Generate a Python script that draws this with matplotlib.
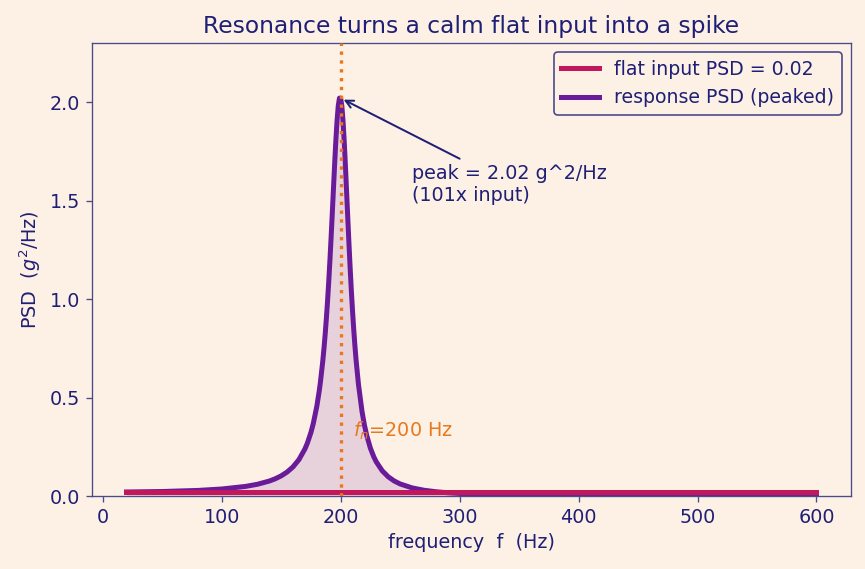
import matplotlib
matplotlib.use("Agg")
import matplotlib.pyplot as plt

# --- data ---
freq = [20, 50, 80, 100, 120, 130, 140, 145, 150, 155, 160, 165, 170, 172,
        175, 177, 180, 182, 183, 185, 186, 187, 188, 189, 190, 191, 192, 193,
        194, 195, 196, 197, 198, 199, 200, 201, 202, 203, 204, 205, 206, 207,
        208, 209, 210, 211, 212, 213, 215, 218, 220, 222, 225, 228, 230, 235,
        240, 245, 250, 260, 270, 280, 290, 300, 350, 400, 450, 500, 600]
response_psd = [0.0204, 0.0228, 0.0283, 0.0355, 0.0486, 0.0595, 0.0758, 0.0873,
                0.1021, 0.1216, 0.148, 0.1851, 0.2392, 0.2679, 0.322, 0.3677,
                0.456, 0.533, 0.578, 0.686, 0.750, 0.821, 0.901, 0.990, 1.089,
                1.197, 1.314, 1.438, 1.565, 1.690, 1.807, 1.907, 1.981, 2.020,
                2.02, 1.980, 1.905, 1.802, 1.679, 1.546, 1.412, 1.281, 1.157,
                1.043, 0.939, 0.846, 0.763, 0.689, 0.566, 0.428, 0.360, 0.306,
                0.243, 0.197, 0.173, 0.1278, 0.0975, 0.0764, 0.0612, 0.0413,
                0.0293, 0.0217, 0.0165, 0.0129, 0.0048, 0.0023, 0.0013, 0.0008,
                0.0003]
input_level = 0.02
f_n = 200
peak = 2.02

# --- colours ---
bg = "#fdf1e6"
ink = "#1f1f75"
spine = "#4b4b8c"
red = "#c2185b"
purple = "#6a1b9a"
orange = "#e8781e"

fig, ax = plt.subplots(figsize=(865 / 120, 569 / 120), dpi=120)
fig.patch.set_facecolor(bg)
ax.set_facecolor(bg)

ax.plot(freq, [input_level] * len(freq), color=red, lw=3,
        label="flat input PSD = 0.02", zorder=3)
ax.plot(freq, response_psd, color=purple, lw=3,
        label="response PSD (peaked)", zorder=2)
ax.fill_between(freq, 0, response_psd, color=purple, alpha=0.15, lw=0, zorder=1)
ax.axvline(f_n, color=orange, ls=":", lw=2, zorder=4)
ax.text(f_n + 10, 0.3, r"$f_n$=200 Hz", color=orange, fontsize=11.5)

ax.annotate("peak = 2.02 g^2/Hz\n(101x input)", xy=(f_n, peak),
            xytext=(260, 1.5), color=ink, fontsize=11.5,
            arrowprops=dict(arrowstyle="->", color=ink, lw=1.2))

ax.set_ylim(0, 2.3)
ax.set_title("Resonance turns a calm flat input into a spike", color=ink,
             fontsize=14)
ax.set_xlabel("frequency  f  (Hz)", color=ink, fontsize=11.5)
ax.set_ylabel(r"PSD  ($g^2$/Hz)", color=ink, fontsize=11.5)
ax.tick_params(colors=spine, labelcolor=ink, labelsize=11.5)
for s in ax.spines.values():
    s.set_color(spine)

leg = ax.legend(loc="upper right", fontsize=11.3, facecolor=bg,
                edgecolor=spine, framealpha=1)
for t in leg.get_texts():
    t.set_color(ink)

fig.subplots_adjust(left=92 / 865, right=851 / 865, top=1 - 43 / 569,
                    bottom=1 - 496 / 569)
plt.savefig("out.png", dpi=120, facecolor=bg)
